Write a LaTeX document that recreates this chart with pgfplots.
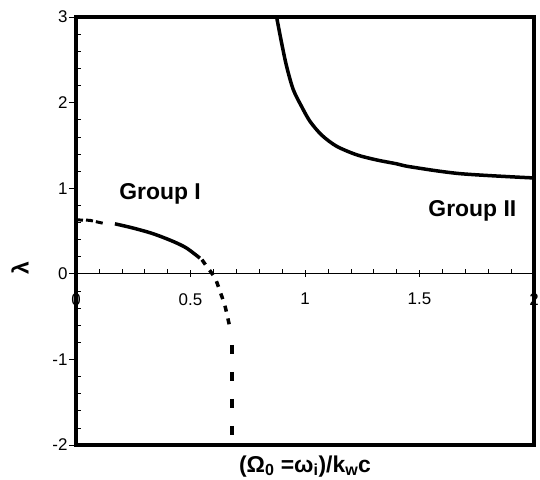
\documentclass[border=0pt]{standalone}
\usepackage{fontspec}
\setmainfont{Liberation Sans}
\usepackage{pgfplots}
\pgfplotsset{compat=1.18}
\usetikzlibrary{calc}
\begin{document}
\begin{tikzpicture}
\begin{axis}[
  name=ax,
  scale only axis, width=458bp, height=428bp,
  xmin=0, xmax=2, ymin=-2, ymax=3,
  axis x line=middle, axis y line=left,
  axis line style={-, line width=0.6bp},
  xtick={0,0.5,1,1.5,2}, ytick={-2,-1,0,1,2,3},
  minor x tick num=4, minor y tick num=4,
  hide obscured x ticks=false, hide obscured y ticks=false,
  tick align=inside,
  tick style={black, line width=0.6bp},
  major tick length=7bp, minor tick length=5bp,
  every major y tick/.append style={xshift=-7bp},
  every major x tick/.append style={yshift=-3bp},
  ytick pos=left,
  /pgf/number format/assume math mode=true,
  xticklabel style={font=\fontsize{17}{19}\selectfont, yshift=-16bp},
  yticklabel style={font=\fontsize{17}{19}\selectfont, xshift=-5bp},
  clip=false,
]
% Group I
\addplot[black, line width=3bp, dash pattern=on 7bp off 3bp] coordinates
  {(0,0.63)(0.06,0.625)(0.119,0.59)};
\addplot[black, line width=3.5bp, smooth] coordinates
  {(0.170,0.584)(0.250,0.534)(0.338,0.467)(0.425,0.377)(0.483,0.30)(0.541,0.183)};
\addplot[black, line width=3.5bp, smooth, dash pattern=on 6bp off 7bp] coordinates
  {(0.55,0.165)(0.571,0.085)(0.607,-0.05)(0.629,-0.207)(0.651,-0.38)(0.672,-0.63)};
\addplot[black, line width=4bp, dash pattern=on 9bp off 18bp] coordinates
  {(0.68,-0.83)(0.68,-1.9)};
% Group II
\addplot[black, line width=3.5bp, smooth] coordinates
  {(0.876,3.0)(0.898,2.695)(0.920,2.42)(0.949,2.15)(0.986,1.95)(1.022,1.78)
   (1.073,1.62)(1.138,1.49)(1.226,1.39)(1.313,1.33)(1.400,1.285)(1.46,1.25)
   (1.677,1.17)(1.996,1.12)};
\node[font=\fontsize{23}{26}\selectfont\bfseries] at (axis cs:0.367,0.93) {Group I};
\node[font=\fontsize{23}{26}\selectfont\bfseries] at (axis cs:1.731,0.736) {Group II};
\end{axis}
\draw[line width=3.5bp] (ax.south west) rectangle (ax.north east);
\node[font=\fontsize{23}{26}\selectfont\bfseries, anchor=north]
  at ($(ax.south)+(0,-7bp)$) {(Ω\textsubscript{0} =ω\textsubscript{i})/k\textsubscript{w}c};
\node[font=\fontsize{23}{26}\selectfont\bfseries, rotate=90]
  at ($(ax.south west)+(-56bp,177bp)$) {λ};
\pgfresetboundingbox
\path ($(ax.south west)+(-76bp,-35bp)$) rectangle ($(ax.north east)+(6bp,17bp)$);
\end{tikzpicture}
\end{document}
